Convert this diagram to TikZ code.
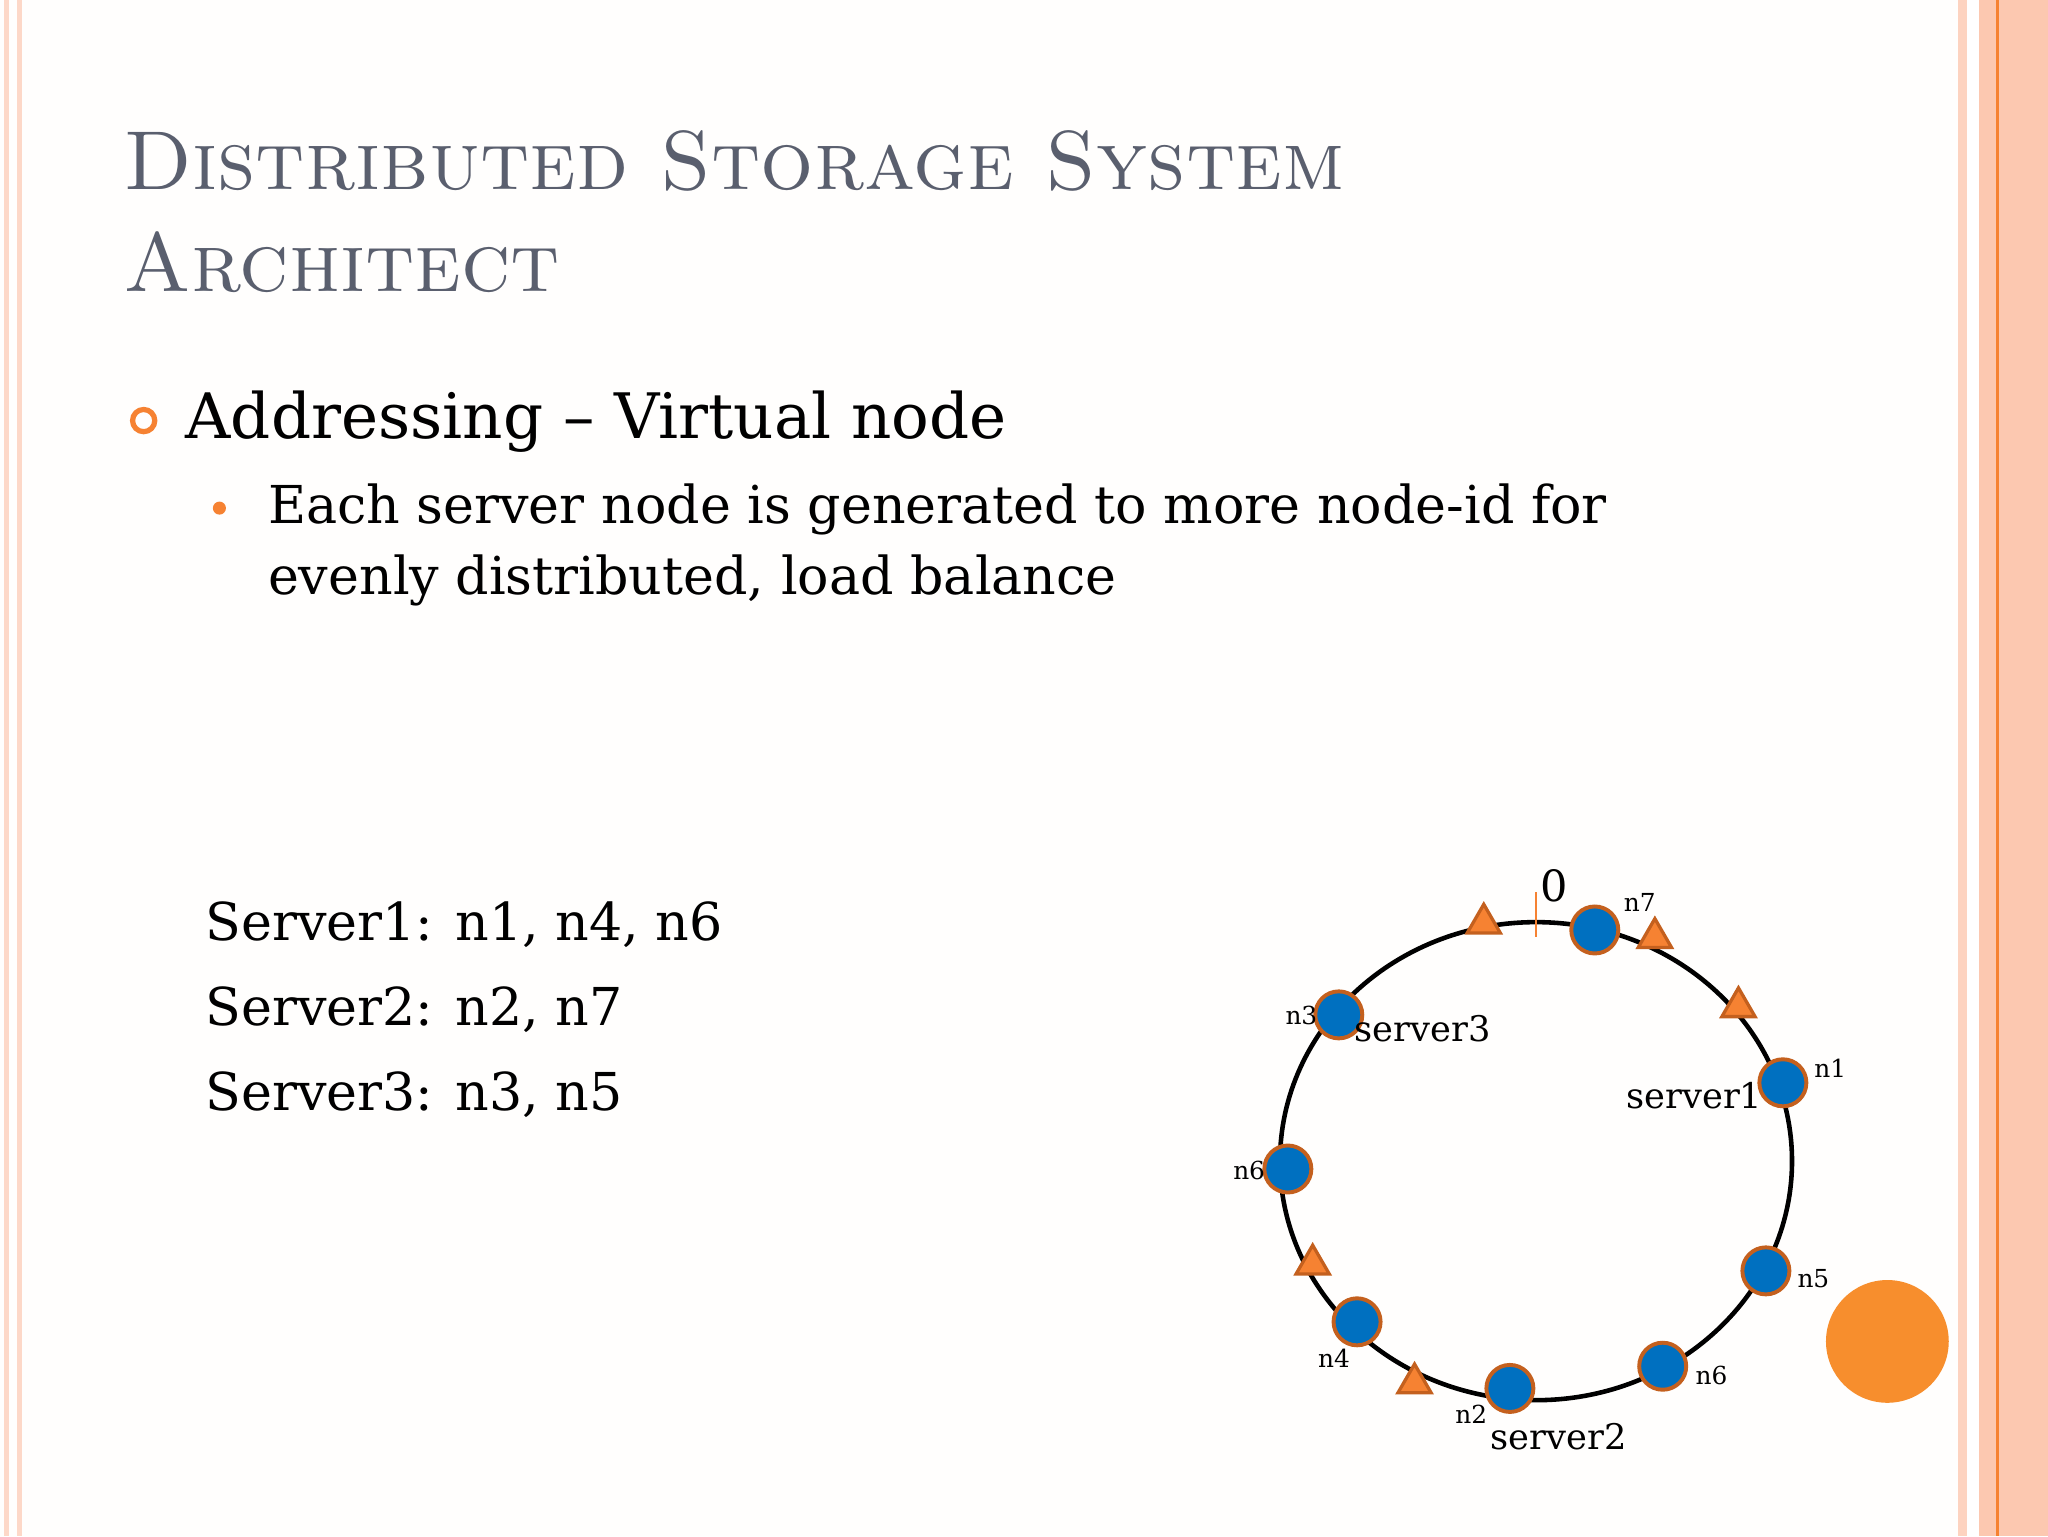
\documentclass[tikz,border=0pt]{standalone}
\usepackage{fontspec}
\newfontfamily\dvs{DejaVu Serif}
\usetikzlibrary{shapes.geometric}
\definecolor{peach}{RGB}{252,200,176}
\definecolor{orng}{RGB}{246,130,50}
\definecolor{brn}{RGB}{196,96,30}
\definecolor{blu}{RGB}{0,112,192}
\definecolor{ttl}{RGB}{90,95,110}
\begin{document}
\begin{tikzpicture}[x=1pt,y=-1pt,
  vn/.style={circle,fill=blu,draw=brn,line width=3pt,minimum size=36pt,inner sep=0pt},
  tri/.style={isosceles triangle,shape border rotate=90,isosceles triangle apex angle=60,fill=orng,draw=brn,line width=2.5pt,minimum size=22pt,inner sep=0pt},
  sm/.style={font=\dvs\fontsize{19}{22}\selectfont,inner sep=0pt},
  md/.style={font=\dvs\fontsize{27}{30}\selectfont,inner sep=0pt}]
\fill[white!98!peach] (0,0) rectangle (1568,1176);
\useasboundingbox (0,0) rectangle (1568,1176);
% borders
\fill[peach!70] (3,0) rectangle (7,1176);
\fill[peach!70] (13,0) rectangle (17,1176);
\fill[peach!80] (1499,0) rectangle (1506,1176);
\fill[white] (1506,0) rectangle (1515,1176);
\fill[peach] (1515,0) rectangle (1568,1176);
\fill[orng] (1528,0) rectangle (1530.5,1176);
% title
\node[anchor=base west,text=ttl,font=\fontsize{64}{80}\selectfont\scshape,inner sep=0pt] (t1) at (94,145) {Distributed Storage System};
\node[anchor=base west,text=ttl,font=\fontsize{64}{80}\selectfont\scshape,inner sep=0pt] (t2) at (94,223) {Architect};
% bullets
\node[circle,draw=orng,line width=4pt,minimum size=17pt,inner sep=0pt] (b1) at (110,322) {};
\node[anchor=base west,font=\dvs\fontsize{48}{60}\selectfont,inner sep=0pt] (l1) at (142,336) {Addressing – Virtual node};
\node[circle,fill=orng,minimum size=10pt,inner sep=0pt] (b2) at (168,389) {};
\node[anchor=base west,font=\dvs\fontsize{40}{54}\selectfont,inner sep=0pt] (l2) at (205,401) {Each server node is generated to more node-id for};
\node[anchor=base west,font=\dvs\fontsize{40}{54}\selectfont,inner sep=0pt] (l3) at (205,455) {evenly distributed, load balance};
\foreach \s/\t/\y in {a/{Server1: n1, n4, n6}/720,b/{Server2: n2, n7}/785,c/{Server3: n3, n5}/850}
  \node[anchor=base west,font=\dvs\fontsize{40}{50}\selectfont,inner sep=0pt] (s\s) at (157,\y) {\t};
% ring
\draw[line width=3.5pt] (1176,889) ellipse [x radius=196, y radius=183];
\draw[orng,line width=2pt] (1176,683) -- (1176,717);
\node[font=\dvs\fontsize{33}{36}\selectfont,inner sep=0pt,anchor=base] (zero) at (1190,690) {0};
\foreach \n/\x/\y in {t1/1136/707,t2/1267/718,t3/1331/771,t4/1005/968,t5/1083/1059}
  \node[tri] (\n) at (\x,\y) {};
\foreach \n/\x/\y in {v7/1221/712,v1/1365/829,v5/1352/973,v6/1273/1046,v2/1156/1063,v4/1039/1012,v6b/986/895,v3/1025/777}
  \node[vn] (\n) at (\x,\y) {};
\node[sm,anchor=base west] at (1243,698) {n7};
\node[sm,anchor=base west] at (1389,825) {n1};
\node[md,anchor=base west] at (1245,849) {server1};
\node[sm,anchor=base west] at (1376,986) {n5};
\node[sm,anchor=base west] at (1298,1060) {n6};
\node[sm,anchor=base west] at (1114,1090) {n2};
\node[md,anchor=base west] at (1141,1110) {server2};
\node[sm,anchor=base west] at (1009,1047) {n4};
\node[sm,anchor=base west] at (944,903) {n6};
\node[sm,anchor=base west] at (984,784) {n3};
\node[md,anchor=base west] at (1037,797) {server3};
\node[circle,fill=orng!90!yellow,minimum size=94pt,inner sep=0pt] (big) at (1445,1027) {};
\end{tikzpicture}
\end{document}
